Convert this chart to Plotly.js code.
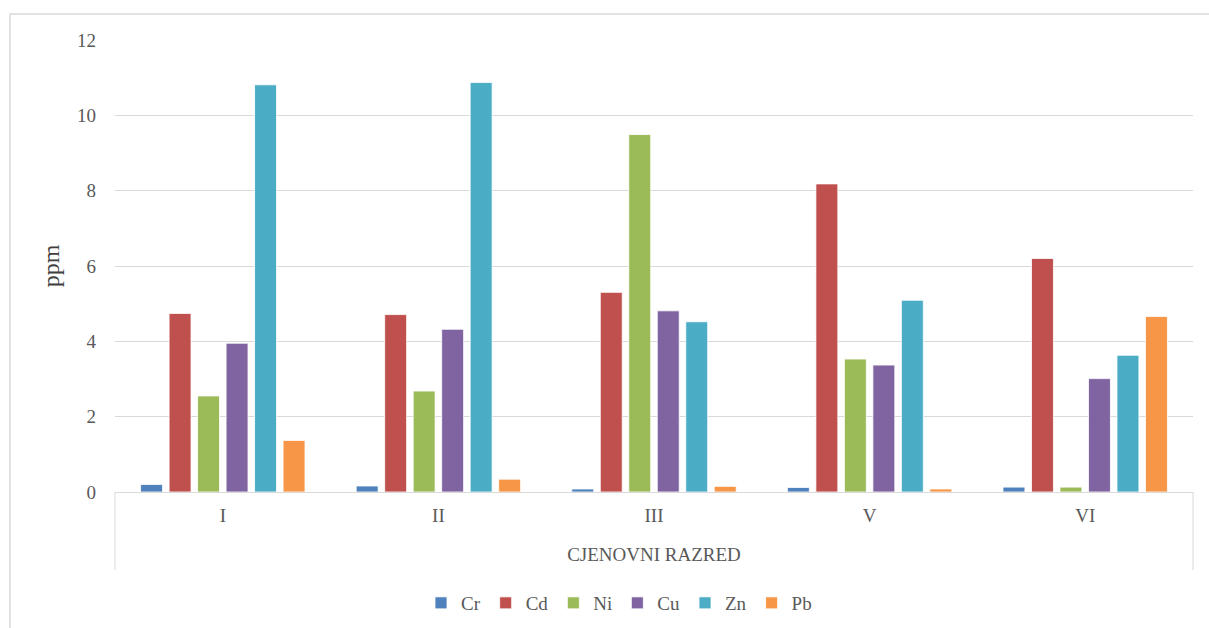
<!DOCTYPE html>
<html>
<head>
<meta charset="utf-8">
<script src="https://cdn.plot.ly/plotly-3.0.1.min.js"></script>
<style>
html,body{margin:0;padding:0;background:#fff;}
#chart{width:1209px;height:628px;}
</style>
</head>
<body>
<div id="chart"></div>
<script>
const categories = ["I", "II", "III", "V", "VI"];
const seriesNames = ["Cr", "Cd", "Ni", "Cu", "Zn", "Pb"];
const Cr = [0.20, 0.16, 0.08, 0.12, 0.13];
const Cd = [4.74, 4.71, 5.30, 8.18, 6.20];
const Ni = [2.55, 2.68, 9.49, 3.53, 0.13];
const Cu = [3.95, 4.32, 4.81, 3.37, 3.01];
const Zn = [10.81, 10.87, 4.52, 5.09, 3.63];
const Pb = [1.37, 0.34, 0.15, 0.08, 4.66];
const yTicks = [0, 2, 4, 6, 8, 10, 12];

const seriesValues = [Cr, Cd, Ni, Cu, Zn, Pb];
const colors = ["#4F81BD", "#C0504D", "#9BBB59", "#8064A2", "#4BACC6", "#F79646"];

const traces = seriesNames.map((n, i) => ({
  type: "bar",
  name: n,
  x: categories,
  y: seriesValues[i],
  marker: {color: colors[i], line: {color: "rgba(255,255,255,0.8)", width: 1}},
  hoverinfo: "x+y+name"
}));

const W = 1209, H = 628;
const mL = 115, mR = 16, mT = 40, mB = 136;
const pw = W - mL - mR, ph = H - mT - mB;
const px = v => (v - mL) / pw;            // pixel x -> paper
const py = v => (H - mB - v) / ph;        // pixel y -> paper

const serif = "'Liberation Serif', 'Times New Roman', serif";

const layout = {
  width: W, height: H,
  margin: {l: mL, r: mR, t: mT, b: mB, autoexpand: false},
  paper_bgcolor: "#fff",
  plot_bgcolor: "#fff",
  barmode: "group",
  bargap: 0.207,
  bargroupgap: 0.23,
  showlegend: true,
  font: {family: serif, color: "#595959", size: 19},
  xaxis: {
    type: "category",
    showgrid: false,
    showline: true,
    linecolor: "#D9D9D9",
    linewidth: 1,
    ticks: "",
    ticklabelstandoff: 6,
    tickfont: {family: serif, size: 19, color: "#595959"},
    title: {text: "CJENOVNI RAZRED", font: {family: serif, size: 19, color: "#595959"}, standoff: 22},
    zeroline: false,
    automargin: false,
    fixedrange: true
  },
  yaxis: {
    range: [0, 12],
    tickvals: yTicks,
    ticktext: yTicks.map(String),
    showgrid: true,
    gridcolor: "#D9D9D9",
    gridwidth: 1,
    zeroline: false,
    showline: false,
    ticks: "",
    ticklabelstandoff: 18,
    tickfont: {family: serif, size: 19, color: "#595959"},
    title: {text: "ppm", font: {family: serif, size: 24, color: "#404040"}, standoff: 10},
    automargin: false,
    fixedrange: true
  },
  legend: {
    orientation: "h",
    x: px(619), xanchor: "center",
    y: py(603), yanchor: "middle",
    font: {family: serif, size: 19, color: "#595959"},
    itemwidth: 30,
    tracegroupgap: 0,
    traceorder: "normal"
  },
  shapes: [
    {type: "line", xref: "paper", yref: "paper", x0: 0, x1: 0, y0: 0, y1: py(570), line: {color: "#D9D9D9", width: 1}},
    {type: "line", xref: "paper", yref: "paper", x0: 1, x1: 1, y0: 0, y1: py(570), line: {color: "#D9D9D9", width: 1}},
    {type: "rect", xref: "paper", yref: "paper", x0: px(10), x1: px(1214), y0: py(14), y1: py(634), line: {color: "#D9D9D9", width: 1.5}, fillcolor: "rgba(0,0,0,0)"}
  ]
};

Plotly.newPlot("chart", traces, layout, {displayModeBar: false, staticPlot: false});
</script>
</body>
</html>
